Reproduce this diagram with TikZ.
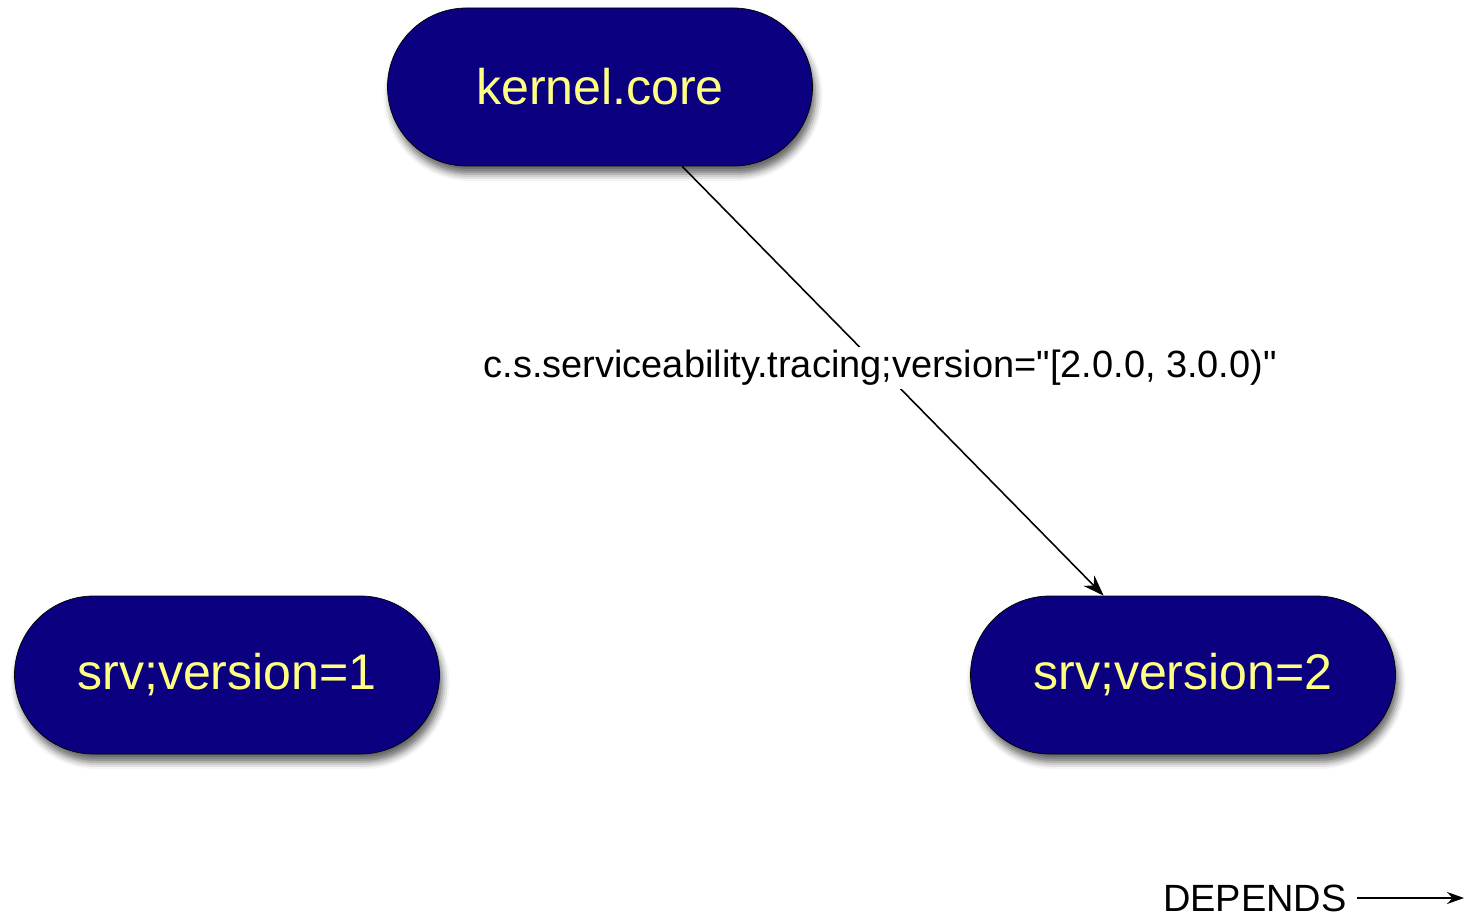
\documentclass[tikz,border=0pt]{standalone}
\usepackage{fontspec}
\setmainfont{Liberation Sans}[Ligatures=TeXOff]
\usepackage{tikz}
\usetikzlibrary{arrows,arrows.meta,positioning,shadows.blur}
\definecolor{bundlefill}{RGB}{10,0,128}
\definecolor{bundletext}{RGB}{255,255,130}
\tikzstyle{bundle} = [draw=black, thin, fill=bundlefill, text=bundletext,
  rounded corners=1.58cm, minimum width=8.5cm, minimum height=3.16cm,
  font=\fontsize{28.5}{34}\selectfont,
  blur shadow={shadow xshift=0.06cm, shadow yshift=-0.16cm,
    shadow blur radius=0.14cm, shadow opacity=60}]
\tikzstyle{arrow} = [line width=0.9pt,->,>={Stealth[length=0.42cm,width=0.3cm]}]
\tikzstyle{legendarrow} = [line width=0.9pt,->,>={Stealth[length=0.34cm,width=0.24cm]}]
\tikzstyle{label} = [fill=white, inner sep=2pt, font=\fontsize{21.6}{26}\selectfont]

\begin{document}
\begin{tikzpicture}
            \useasboundingbox (0,0) rectangle (29.28,-18.4);
            % bundles
            \node[bundle] (kernel) at (12.0,-1.74) {kernel.core};
            \node[bundle] (srvone) at (4.54,-13.5) {srv;version=1};
            \node[bundle] (srvtwo) at (23.66,-13.5) {srv;version=2};
            % wiring
            \draw[arrow] (kernel.-44.6) -- (srvtwo.135.7)
              node[label, pos=0.47] {c.s.serviceability.tracing;version="[2.0.0, 3.0.0)"};
            % legend
            \node[anchor=east, inner sep=0pt, font=\fontsize{21.6}{26}\selectfont] (depends) at (26.94,-17.96) {DEPENDS};
            \coordinate (dependsend) at (29.28,-17.96);
            \draw[legendarrow] ([xshift=0.2cm]depends.east) -- (dependsend);
        \end{tikzpicture}
\end{document}
